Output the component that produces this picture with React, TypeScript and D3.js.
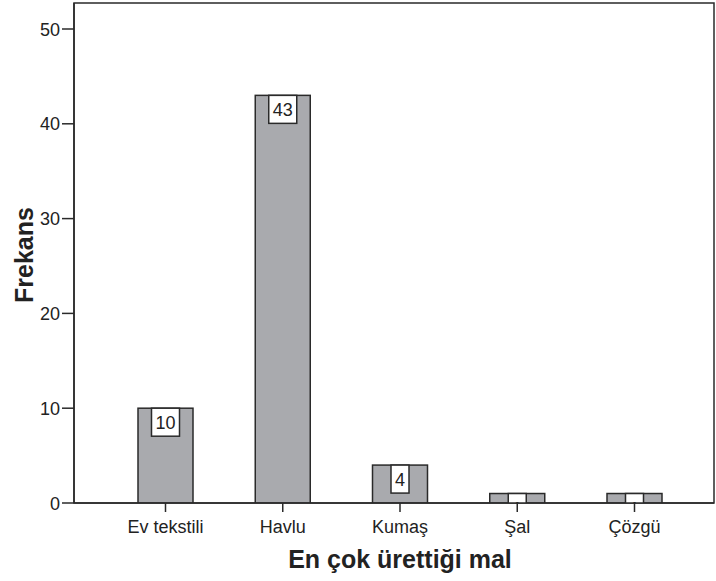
import React from "react";
import * as d3 from "d3";

const categories = ["Ev tekstili", "Havlu", "Kumaş", "Şal", "Çözgü"];
const frequencies = [10, 43, 4, 1, 1];
const yTicks = [0, 10, 20, 30, 40, 50];

export default function App() {
  const W = 716, H = 581;
  const left = 74, right = 714, top = 3, bottom = 503;
  const y = d3.scaleLinear().domain([0, 50]).range([bottom, 29]);
  const x = d3.scalePoint<string>().domain(categories).range([165.5, 634.5]);
  const barW = 55;
  const font = "'Liberation Sans', Arial, sans-serif";
  return (
    <svg width={W} height={H} style={{ position: "absolute", left: 0, top: 0, fontFamily: font }}>
      <defs>
        <clipPath id="plotclip">
          <rect x={left} y={top} width={right - left} height={bottom - top} />
        </clipPath>
      </defs>
      <rect x={left} y={top} width={right - left} height={bottom - top} fill="white" stroke="#2a2a2a" strokeWidth={1.5} />
      <g clipPath="url(#plotclip)">
        {categories.map((c, i) => {
          const v = frequencies[i];
          const cx = x(c)!;
          const yt = y(v);
          const label = String(v);
          const bw = label.length === 1 ? 18 : 28;
          return (
            <g key={c}>
              <rect x={cx - barW / 2} y={yt} width={barW} height={bottom - yt} fill="#a9aaae" stroke="#2a2a2a" strokeWidth={1.5} />
              <rect x={cx - bw / 2} y={yt} width={bw} height={28} fill="white" stroke="#2a2a2a" strokeWidth={1.5} />
              <text x={cx} y={yt + 21} textAnchor="middle" fontSize={18} fill="#222">{label}</text>
            </g>
          );
        })}
      </g>
      <line x1={left} x2={right} y1={bottom} y2={bottom} stroke="#2a2a2a" strokeWidth={1.5} />
      <line x1={left} x2={left} y1={top} y2={bottom} stroke="#2a2a2a" strokeWidth={1.5} />
      {yTicks.map((t) => (
        <g key={t}>
          <line x1={left - 12} x2={left} y1={y(t)} y2={y(t)} stroke="#2a2a2a" strokeWidth={1.5} />
          <text x={left - 14} y={y(t) + 6.5} textAnchor="end" fontSize={18} fill="#222">{t}</text>
        </g>
      ))}
      {categories.map((c) => (
        <g key={c}>
          <line x1={x(c)!} x2={x(c)!} y1={bottom} y2={bottom + 9} stroke="#2a2a2a" strokeWidth={1.5} />
          <text x={x(c)!} y={533} textAnchor="middle" fontSize={18} fill="#222">{c}</text>
        </g>
      ))}
      <text x={400} y={568} textAnchor="middle" fontSize={25} fontWeight="bold" fill="#222">En çok ürettiği mal</text>
      <text transform={`translate(33,255) rotate(-90)`} textAnchor="middle" fontSize={25} fontWeight="bold" fill="#222">Frekans</text>
    </svg>
  );
}
